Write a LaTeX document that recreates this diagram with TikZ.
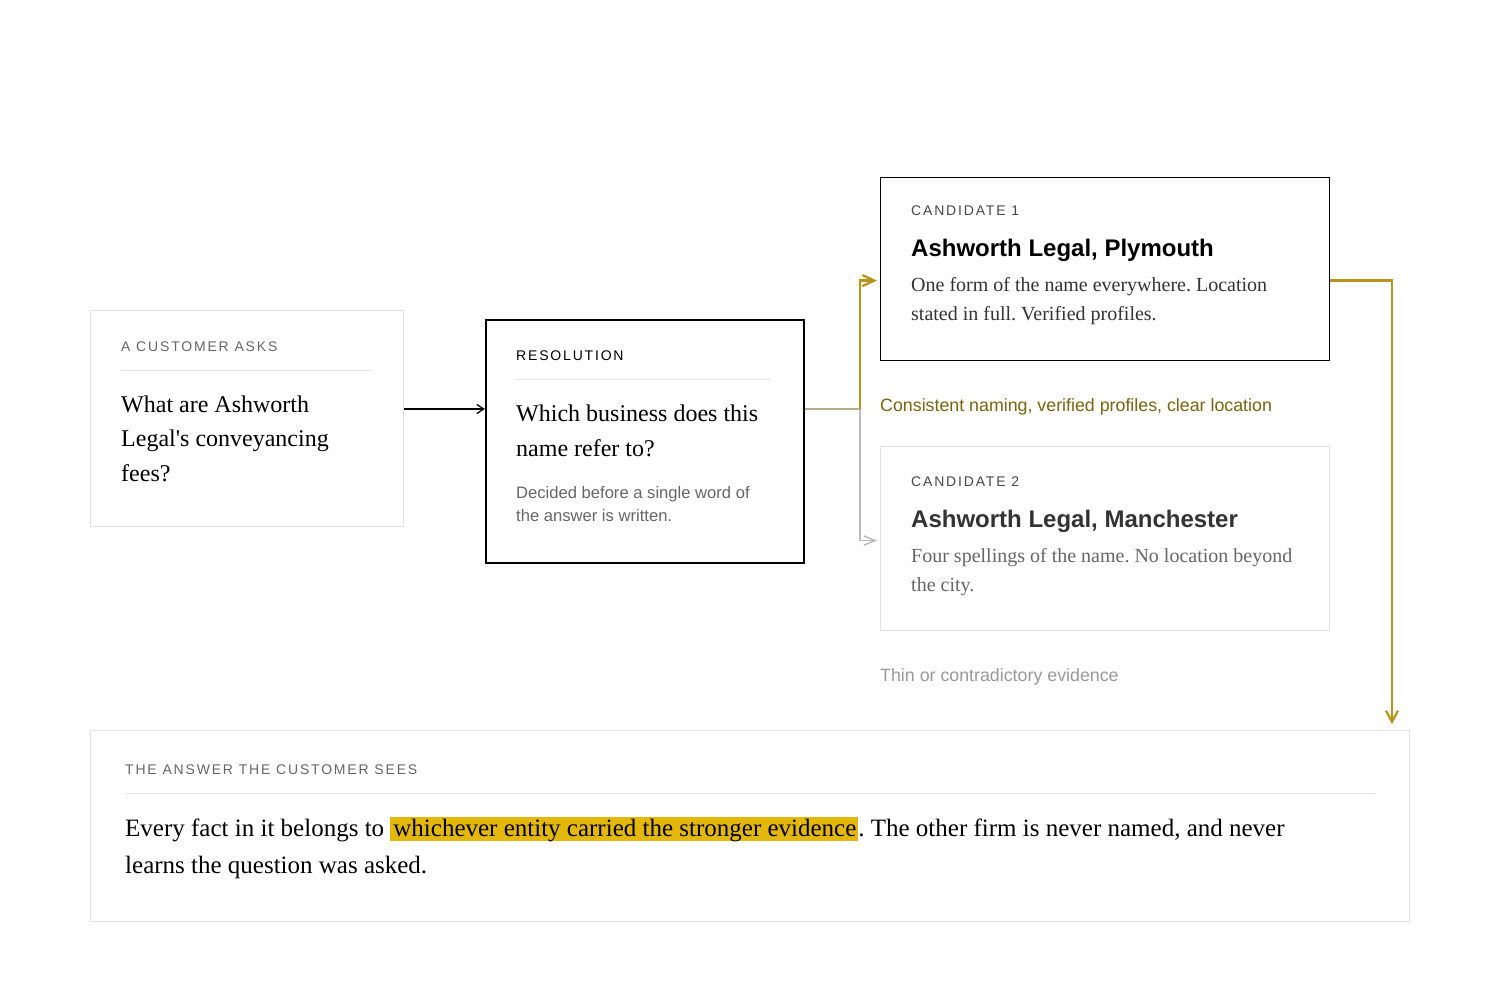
\documentclass[tikz,border=0pt]{standalone}
\usepackage{fontspec}
\setmainfont{Liberation Serif}
\setsansfont{Liberation Sans}
\newfontfamily\capsfont[LetterSpace=13]{Liberation Sans}
\usetikzlibrary{arrows.meta,calc}
\definecolor{lightborder}{HTML}{E2E2E2}
\definecolor{rulec}{HTML}{E6E6E6}
\definecolor{labelgray}{HTML}{666666}
\definecolor{gold}{HTML}{B8921A}
\definecolor{tanc}{HTML}{B8AD88}
\definecolor{arrowgray}{HTML}{BBBBBB}
\definecolor{olive}{HTML}{7A6410}
\definecolor{darkgray}{HTML}{333333}
\definecolor{midgray}{HTML}{666666}
\definecolor{thingray}{HTML}{999999}
\definecolor{hlc}{HTML}{E4B80A}
\newcommand{\ml}[1]{\vtop{\halign{##\hfil\cr#1\crcr}}}
\newcommand{\hlt}[1]{{\setlength{\fboxsep}{0pt}\colorbox{hlc}{\kern3pt\rule[-5pt]{0pt}{24pt}#1\kern2pt}}}
\frenchspacing
\begin{document}
\begin{tikzpicture}[x=1pt,y=-1pt,
  lightbox/.style={draw=lightborder,line width=1pt,anchor=north west,inner sep=0pt},
  darkbox/.style={draw=black,anchor=north west,inner sep=0pt},
  caplabel/.style={anchor=base west,inner sep=0pt,text=labelgray,font=\capsfont\fontsize{14}{16}\selectfont},
  serifq/.style={anchor=base west,inner sep=0pt,text=black,font=\rmfamily\fontsize{24}{35}\selectfont},
  seriftxt/.style={anchor=base west,inner sep=0pt,font=\rmfamily\fontsize{20}{29}\selectfont},
  candtitle/.style={anchor=base west,inner sep=0pt,font=\sffamily\bfseries\fontsize{24}{28}\selectfont},
  sanstxt/.style={anchor=base west,inner sep=0pt,font=\sffamily\fontsize{17.8}{20}\selectfont},
  divider/.style={draw=rulec,line width=1pt}]
\useasboundingbox[fill=white] (0,0) rectangle (1500,1000);

% ---------- customer box
\node[lightbox,minimum width=313pt,minimum height=216pt] (cust) at (90,310) {};
\node[caplabel] (custlab) at (121,352) {A CUSTOMER ASKS};
\coordinate (custr1) at (121,371);
\coordinate (custr2) at (372,371);
\draw[divider] (custr1) -- (custr2);
\node[serifq] (custq) at (121,412) {\ml{What are Ashworth\cr Legal\textquotesingle s conveyancing\cr fees?}};

% ---------- resolution box
\node[darkbox,line width=2pt,minimum width=318pt,minimum height=243pt] (res) at (485,319) {};
\node[caplabel,text=black] (reslab) at (516,361) {RESOLUTION};
\coordinate (resr1) at (516,380);
\coordinate (resr2) at (771,380);
\draw[divider] (resr1) -- (resr2);
\node[serifq] (resq) at (516,421) {\ml{Which business does this\cr name refer to?}};
\node[anchor=base west,inner sep=0pt,text=midgray,font=\sffamily\fontsize{16.6}{23}\selectfont] (resnote) at (516,498) {\ml{Decided before a single word of\cr the answer is written.}};

% ---------- candidate 1
\node[darkbox,line width=1.2pt,minimum width=449pt,minimum height=183pt] (cand1) at (880,177) {};
\node[caplabel,text=darkgray!90] (c1lab) at (911,216) {CANDIDATE 1};
\node[candtitle,text=black] (c1title) at (911,257) {Ashworth Legal, Plymouth};
\node[seriftxt,text=darkgray] (c1txt) at (911,292) {\ml{One form of the name everywhere. Location\cr stated in full. Verified profiles.}};
\node[sanstxt,text=olive] (c1why) at (880,411) {Consistent naming, verified profiles, clear location};

% ---------- candidate 2
\node[lightbox,minimum width=449pt,minimum height=184pt] (cand2) at (880,446) {};
\node[caplabel,text=darkgray!90] (c2lab) at (911,486) {CANDIDATE 2};
\node[candtitle,text=darkgray] (c2title) at (911,527) {Ashworth Legal, Manchester};
\node[seriftxt,text=midgray] (c2txt) at (911,562) {\ml{Four spellings of the name. No location beyond\cr the city.}};
\node[sanstxt,text=thingray] (c2why) at (880,681) {Thin or contradictory evidence};

% ---------- answer box
\node[lightbox,minimum width=1319pt,minimum height=191pt] (ans) at (90,730) {};
\node[caplabel] (anslab) at (125,774) {THE ANSWER THE CUSTOMER SEES};
\coordinate (ansr1) at (125,793);
\coordinate (ansr2) at (1375,793);
\draw[divider] (ansr1) -- (ansr2);
\node[anchor=base west,inner sep=0pt,text=black,font=\rmfamily\fontsize{25}{37}\selectfont] (anstxt) at (125,836)
  {\ml{Every fact in it belongs to \hlt{whichever entity carried the stronger evidence}. The other firm is never named, and never\cr learns the question was asked.}};

% ---------- connectors
\coordinate (split) at (860,409);
\coordinate (custout) at (cust.east |- split);
\draw[line width=1.3pt,-{Straight Barb[length=7pt,width=9pt]}] (custout) -- (res.west |- split);
\draw[tanc,line width=2pt] (res.east |- split) -- (split);
\draw[arrowgray,line width=1.5pt,-{Straight Barb[length=11pt,width=9pt]}]
  (split) |- ([yshift=-2pt,xshift=-3pt]cand2.west);
\draw[gold,line width=2.2pt,-{Straight Barb[length=12pt,width=11pt]}]
  (split) |- ([yshift=-11.5pt,xshift=-3pt]cand1.west);
\coordinate (dropend) at ([xshift=-18pt,yshift=6pt]ans.north east);
\draw[gold,line width=2.2pt,-{Straight Barb[length=11pt,width=12pt]}]
  ([yshift=-11.5pt]cand1.east) -| (dropend);
\end{tikzpicture}
\end{document}
